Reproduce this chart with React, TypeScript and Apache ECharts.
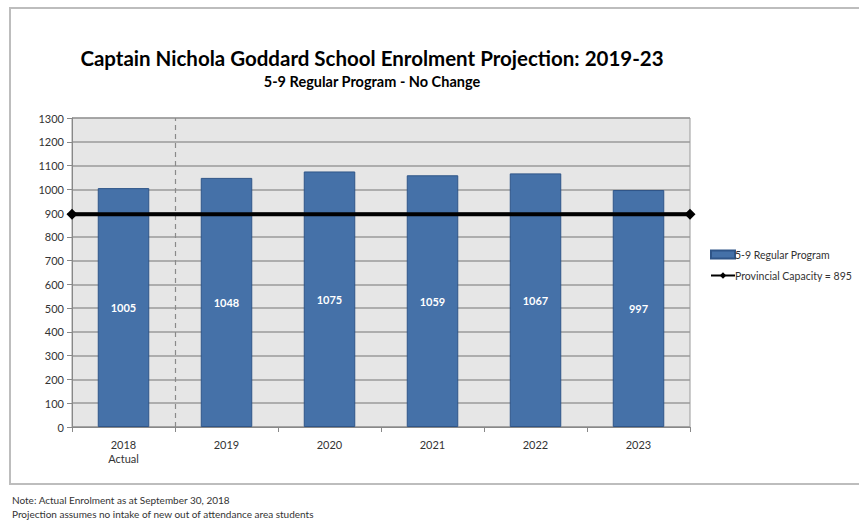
import React, { useEffect, useRef } from "react";
import * as echarts from "echarts";

const categories = ["2018\nActual", "2019", "2020", "2021", "2022", "2023"];
const enrolment = [1005, 1048, 1075, 1059, 1067, 997];
const capacityValue = 895;
const capacityEnds = [0, 6];
const titleText = "Captain Nichola Goddard School Enrolment Projection: 2019-23";
const subtitleText = "5-9 Regular Program - No Change";
const notes = [
  "Note: Actual Enrolment as at September 30, 2018",
  "Projection assumes no intake of new out of attendance area students",
];

export default function App() {
  const ref = useRef<HTMLDivElement>(null);
  useEffect(() => {
    if (!ref.current) return;
    const chart = echarts.init(ref.current, null, { renderer: "svg" });
    const font = "Lato, 'Open Sans', sans-serif";
    chart.setOption({
      animation: false,
      backgroundColor: "#ffffff",
      textStyle: { fontFamily: font },
      grid: {
        left: 72,
        top: 118,
        width: 618,
        height: 309,
        show: true,
        backgroundColor: "#e6e6e6",
        borderColor: "#9a9a9a",
        borderWidth: 1,
      },
      legend: {
        left: 705,
        top: 244,
        orient: "vertical",
        itemGap: 10,
        itemWidth: 24,
        itemHeight: 8,
        textStyle: { fontSize: 10.5, color: "#333", fontFamily: font, padding: [0, 0, 0, -5] },
        data: [
          { name: "5-9 Regular Program", icon: "rect" },
          { name: "Provincial Capacity = " + capacityValue },
        ],
      },
      xAxis: [
        {
          type: "category",
          data: categories,
          axisLine: { lineStyle: { color: "#888", width: 1 } },
          axisTick: { show: true, length: 5, lineStyle: { color: "#888" } },
          axisLabel: { color: "#333", fontSize: 11, margin: 10, lineHeight: 14 },
        },
        { type: "value", min: 0, max: 6, show: false },
      ],
      yAxis: {
        type: "value",
        min: 0,
        max: 1300,
        interval: 100,
        axisLine: { show: true, lineStyle: { color: "#888" } },
        axisTick: { show: true, length: 5, lineStyle: { color: "#888" } },
        axisLabel: { color: "#333", fontSize: 11, margin: 8, formatter: (v: number) => String(v) },
        splitLine: { lineStyle: { color: "#9a9a9a", width: 1.5 } },
      },
      graphic: [
        {
          type: "rect",
          shape: { x: 10, y: 8, width: 870, height: 476 },
          style: { fill: "none", stroke: "#bdbdbd", lineWidth: 2 },
          silent: true,
        },
        {
          type: "text",
          x: 372,
          y: 58,
          style: {
            text: titleText,
            font: "bold 20.5px " + font,
            fill: "#000",
            align: "center",
            verticalAlign: "middle",
          },
        },
        {
          type: "text",
          x: 372,
          y: 81,
          style: {
            text: subtitleText,
            font: "bold 14.5px " + font,
            fill: "#000",
            align: "center",
            verticalAlign: "middle",
          },
        },
        {
          type: "text",
          x: 12,
          y: 500,
          style: { text: notes[0], font: "10px " + font, fill: "#333", verticalAlign: "middle" },
        },
        {
          type: "text",
          x: 12,
          y: 514,
          style: { text: notes[1], font: "10px " + font, fill: "#333", verticalAlign: "middle" },
        },
      ],
      series: [
        {
          name: "divider",
          type: "line",
          xAxisIndex: 1,
          data: [],
          z: 1,
          markLine: {
            silent: true,
            symbol: "none",
            label: { show: false },
            lineStyle: { color: "#8a8a8a", type: [5, 4], width: 1.2 },
            data: [{ xAxis: 1 }],
          },
        },
        {
          name: "5-9 Regular Program",
          type: "bar",
          data: enrolment,
          barWidth: "50%",
          z: 3,
          itemStyle: { color: "#4571a8", borderColor: "#2f5588", borderWidth: 1 },
          label: {
            show: true,
            position: "inside",
            color: "#fff",
            fontSize: 11,
            fontWeight: "bold",
          },
        },
        {
          name: "Provincial Capacity = " + capacityValue,
          type: "line",
          xAxisIndex: 1,
          data: capacityEnds.map((x) => [x, capacityValue]),
          symbol: "diamond",
          symbolSize: 11,
          z: 5,
          lineStyle: { color: "#000", width: 4 },
          itemStyle: { color: "#000" },
        },
      ],
    });
    return () => chart.dispose();
  }, []);
  return <div ref={ref} style={{ width: 859, height: 522, position: "absolute", left: 0, top: 0 }} />;
}
